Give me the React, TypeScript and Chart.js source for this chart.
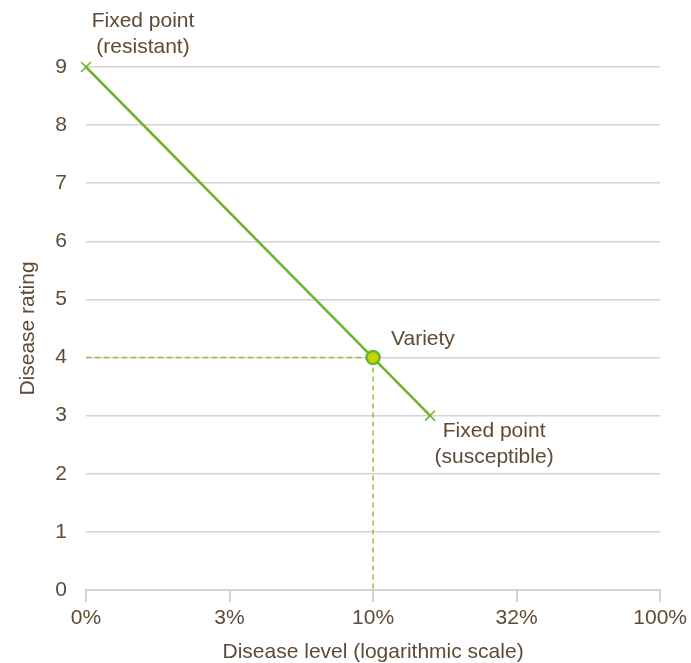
import React, { useEffect, useRef } from "react";
import { Chart, registerables } from "chart.js";

Chart.register(...registerables);

// Data
const tickPercents = [1, 3.1623, 10, 31.623, 100];
const tickLabels = ["0%", "3%", "10%", "32%", "100%"];
const ratingTicks = [0, 1, 2, 3, 4, 5, 6, 7, 8, 9];

const fixedResistant = { x: 1, y: 9 };
const variety = { x: 10, y: 4 };
const fixedSusceptible = { x: 15.8, y: 3 };

const labelResistant = ["Fixed point", "(resistant)"];
const labelVariety = ["Variety"];
const labelSusceptible = ["Fixed point", "(susceptible)"];

const xTitle = "Disease level (logarithmic scale)";
const yTitle = "Disease rating";

const TEXT = "#5e4a35";
const GREEN = "#6db42d";
const DASH_GREEN = "#86c43a";
const GRID = "#d4d4d4";
const FONT = "'Liberation Sans', Arial, Helvetica, sans-serif";
const FS = 21;

const labelPlugin = {
  id: "pointLabels",
  afterDatasetsDraw(chart: any) {
    const { ctx, scales } = chart;
    const x = scales.x;
    const y = scales.y;
    ctx.save();
    ctx.fillStyle = TEXT;
    ctx.font = `${FS}px ${FONT}`;
    ctx.textBaseline = "middle";
    const draw = (lines: string[], px: number, py: number, align: CanvasTextAlign) => {
      ctx.textAlign = align;
      lines.forEach((l, i) => ctx.fillText(l, px, py + i * 26));
    };
    const r = { px: x.getPixelForValue(fixedResistant.x), py: y.getPixelForValue(fixedResistant.y) };
    draw(labelResistant, r.px + 57, r.py - 46, "center");
    const v = { px: x.getPixelForValue(variety.x), py: y.getPixelForValue(variety.y) };
    draw(labelVariety, v.px + 18, v.py - 18, "left");
    const s = { px: x.getPixelForValue(fixedSusceptible.x), py: y.getPixelForValue(fixedSusceptible.y) };
    draw(labelSusceptible, s.px + 64, s.py + 16, "center");
    ctx.restore();
  },
};

export default function App() {
  const ref = useRef<HTMLCanvasElement>(null);
  useEffect(() => {
    if (!ref.current) return;
    const chart = new Chart(ref.current, {
      type: "scatter",
      data: {
        datasets: [
          {
            data: [variety],
            pointRadius: 6.5,
            pointBackgroundColor: "#c6d600",
            pointBorderColor: GREEN,
            pointBorderWidth: 2.5,
            showLine: false,
            clip: false,
          },
          {
            data: [fixedResistant, fixedSusceptible],
            showLine: true,
            borderColor: GREEN,
            borderWidth: 2.5,
            pointStyle: "crossRot",
            pointRadius: 7,
            pointBorderColor: GREEN,
            pointBorderWidth: 1.5,
            clip: false,
          },
          {
            data: [
              { x: fixedResistant.x, y: variety.y },
              variety,
              { x: variety.x, y: 0 },
            ],
            showLine: true,
            borderColor: DASH_GREEN,
            borderWidth: 1.5,
            borderDash: [5, 4],
            pointRadius: 0,
          },
        ],
      },
      options: {
        animation: false,
        responsive: true,
        maintainAspectRatio: false,
        layout: { padding: { top: 67, right: 30, left: 0, bottom: 0 } },
        plugins: { legend: { display: false }, tooltip: { enabled: false } },
        scales: {
          x: {
            type: "logarithmic",
            min: 1,
            max: 100,
            afterBuildTicks: (scale: any) => {
              scale.ticks = tickPercents.map((v) => ({ value: v }));
            },
            afterFit: (scale: any) => {
              scale.height = 73;
            },
            ticks: {
              color: TEXT,
              font: { size: FS, family: FONT },
              padding: 4,
              maxRotation: 0,
              autoSkip: false,
              callback: (_v: any, i: number) => tickLabels[i],
            },
            grid: {
              drawOnChartArea: false,
              drawTicks: true,
              tickLength: 12,
              color: GRID,
              lineWidth: 2,
            },
            border: { display: true, color: GRID, width: 2 },
            title: {
              display: true,
              text: xTitle,
              color: TEXT,
              font: { size: FS, family: FONT },
              padding: { top: 0, bottom: -2 },
            },
          },
          y: {
            type: "linear",
            min: 0,
            max: 9,
            afterBuildTicks: (scale: any) => {
              scale.ticks = ratingTicks.map((v) => ({ value: v }));
            },
            afterFit: (scale: any) => {
              scale.width = 86;
            },
            ticks: {
              color: TEXT,
              font: { size: FS, family: FONT },
              padding: 19,
            },
            grid: {
              color: GRID,
              lineWidth: 1.5,
              drawTicks: false,
            },
            border: { display: false },
            title: {
              display: true,
              text: yTitle,
              color: TEXT,
              font: { size: FS, family: FONT },
              padding: { top: 16, bottom: 0 },
            },
          },
        },
      },
      plugins: [labelPlugin],
    });
    return () => chart.destroy();
  }, []);
  return (
    <div style={{ position: "fixed", left: 0, top: 0, width: 691, height: 663 }}>
      <canvas ref={ref} />
    </div>
  );
}
